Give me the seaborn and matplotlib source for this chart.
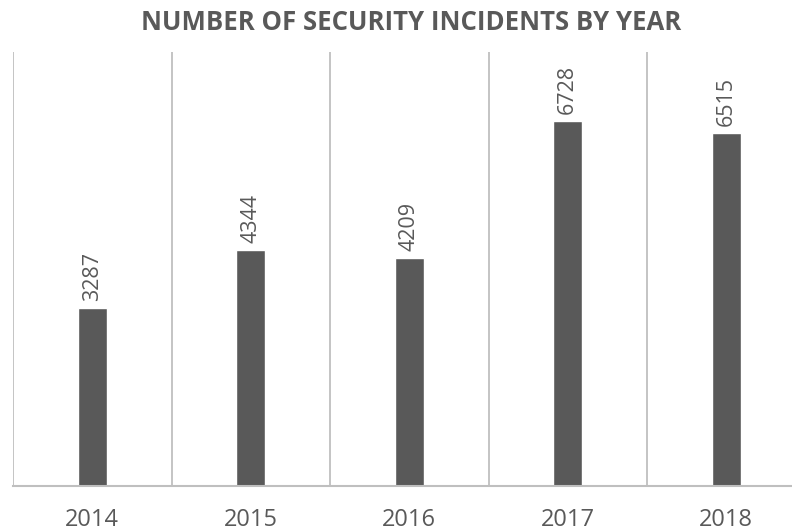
import matplotlib
matplotlib.use("Agg")
import matplotlib.pyplot as plt
import seaborn as sns
import pandas as pd

years = ["2014", "2015", "2016", "2017", "2018"]
incidents = [3287, 4344, 4209, 6728, 6515]

df = pd.DataFrame({"year": years, "incidents": incidents})

sns.set_style("white")
plt.rcParams["font.family"] = ["Open Sans", "DejaVu Sans"]

text_color = "#595959"
grid_color = "#bfbfbf"

fig = plt.figure(figsize=(7.92, 5.31), dpi=100)
ax = fig.add_axes([13 / 792, 1 - 486 / 531, 792.5 / 792, (486 - 52) / 531])

sns.barplot(data=df, x="year", y="incidents", color="#595959", width=0.185,
            saturation=1, ax=ax)

ax.set_ylim(0, 8000)
ax.set_xlim(-0.5, 4.5)

# category separators
for b in [x - 0.5 for x in range(len(years) + 1)]:
    ax.axvline(b, color=grid_color, lw=1.3, zorder=0)

for s in ["top", "right", "left"]:
    ax.spines[s].set_visible(False)
ax.spines["bottom"].set_color(grid_color)
ax.spines["bottom"].set_linewidth(1.5)

ax.set_yticks([])
ax.set_xlabel("")
ax.set_ylabel("")
ax.tick_params(axis="x", length=0, pad=16, labelsize=17, labelcolor=text_color)

for i, v in enumerate(incidents):
    ax.annotate(str(v), (i, v), xytext=(0, 5), textcoords="offset points",
                rotation=90, ha="center", va="bottom", fontsize=15.5,
                color=text_color)

fig.text(411 / 792, 1 - 22 / 531, "NUMBER OF SECURITY INCIDENTS BY YEAR",
         ha="center", va="center", fontsize=18.5, fontweight="bold",
         color=text_color)

fig.savefig("out.png", dpi=100)
